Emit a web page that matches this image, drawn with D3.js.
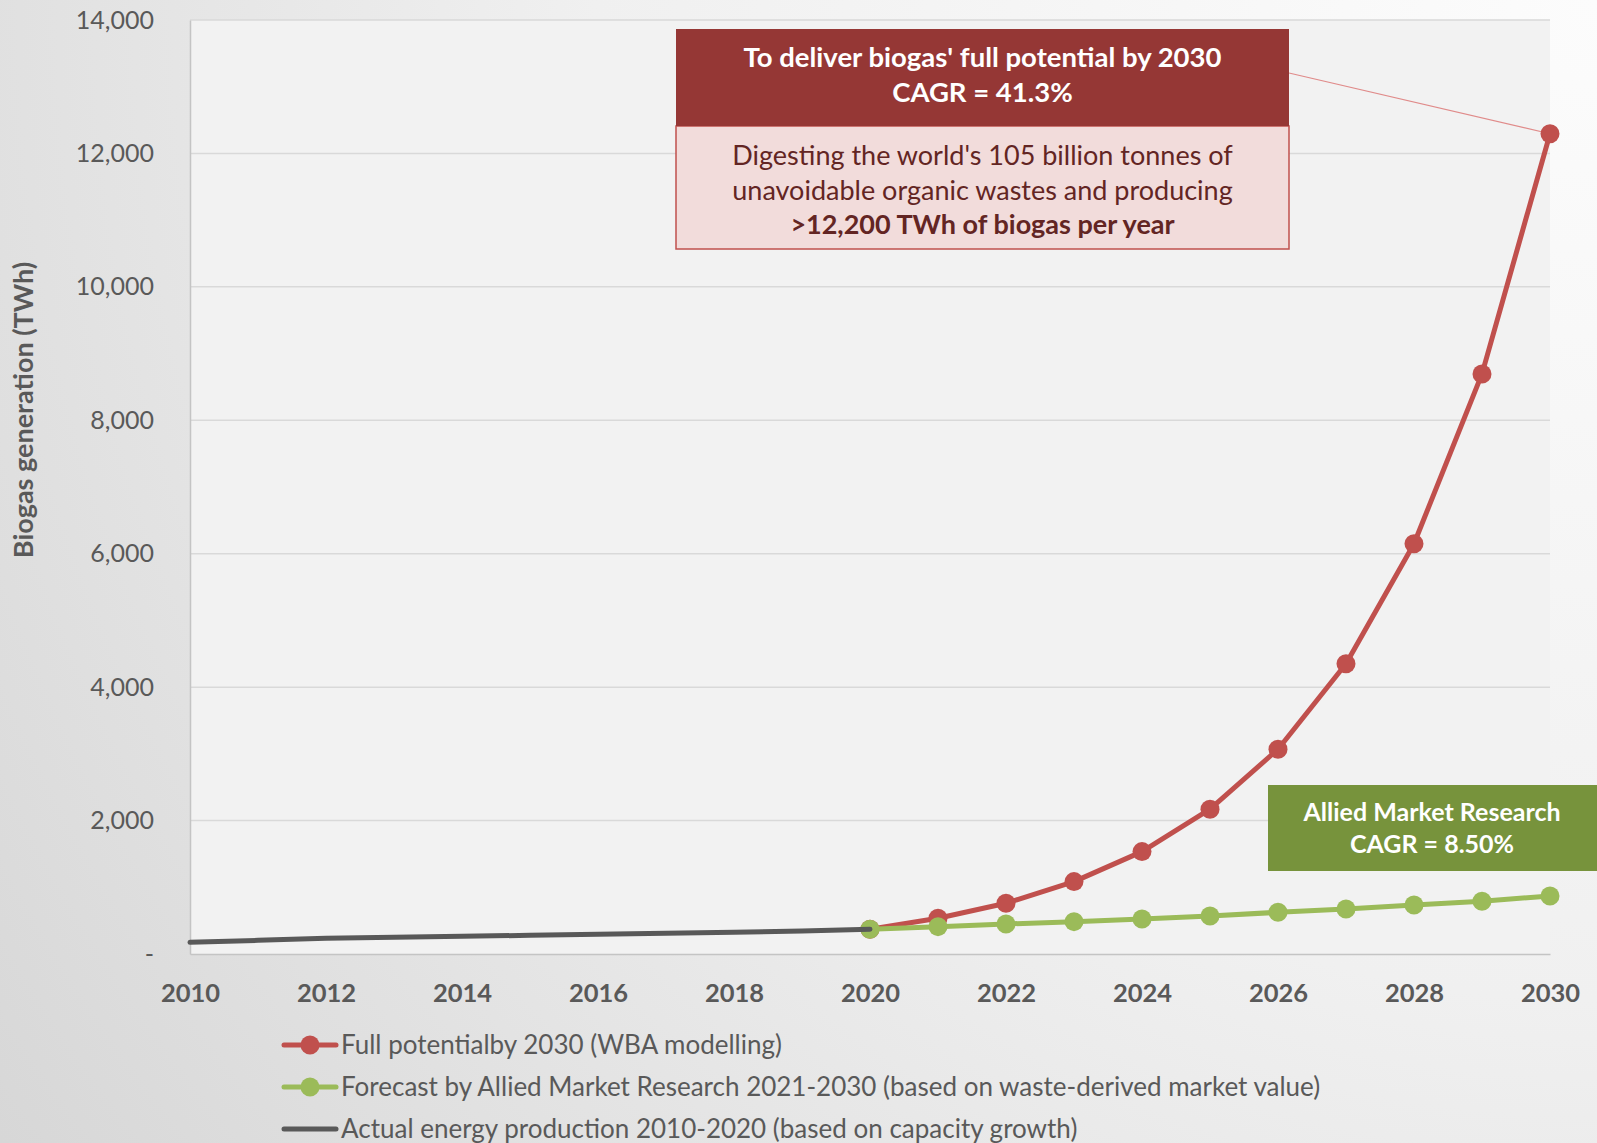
<!DOCTYPE html>
<html>
<head>
<meta charset="utf-8">
<script src="https://cdn.jsdelivr.net/npm/d3@7"></script>
<style>
  html, body { margin: 0; padding: 0; background: #e8e8e8; }
  svg { display: block; font-family: Lato, "Open Sans", sans-serif; }
</style>
</head>
<body>
<script>
const width = 1597, height = 1143;

// data
const actualYears = [2010, 2011, 2012, 2013, 2014, 2015, 2016, 2017, 2018, 2019, 2020];
const actualValues = [175, 205, 235, 250, 265, 280, 295, 310, 325, 345, 370];
const forecastYears = [2020, 2021, 2022, 2023, 2024, 2025, 2026, 2027, 2028, 2029, 2030];
const fullPotential = [370, 535, 760, 1085, 1535, 2170, 3070, 4350, 6150, 8695, 12295];
const alliedForecast = [370, 410, 450, 485, 525, 570, 625, 675, 735, 790, 870];
const xTicks = [2010, 2012, 2014, 2016, 2018, 2020, 2022, 2024, 2026, 2028, 2030];
const yTicks = [0, 2000, 4000, 6000, 8000, 10000, 12000, 14000];
const legendLabels = [
  "Full potentialby 2030 (WBA modelling)",
  "Forecast by Allied Market Research 2021-2030 (based on waste-derived market value)",
  "Actual energy production 2010-2020 (based on capacity growth)"
];
const redHeader = ["To deliver biogas' full potential by 2030", "CAGR = 41.3%"];
const redBody = ["Digesting the world's 105 billion tonnes of", "unavoidable organic wastes and producing"];
const redBodyBold = ">12,200 TWh of biogas per year";
const greenLines = ["Allied Market Research", "CAGR = 8.50%"];

const colors = {red: "#c0504d", green: "#9bbb59", grey: "#595959"};

const svg = d3.select("body").append("svg")
    .attr("width", width)
    .attr("height", height);

const defs = svg.append("defs");
const bg = defs.append("radialGradient")
    .attr("id", "bg")
    .attr("gradientUnits", "userSpaceOnUse")
    .attr("cx", 1597).attr("cy", 0).attr("r", 2000);
bg.append("stop").attr("offset", "0%").attr("stop-color", "#fcfcfc");
bg.append("stop").attr("offset", "50%").attr("stop-color", "#f0f0f0");
bg.append("stop").attr("offset", "100%").attr("stop-color", "#d6d6d6");

svg.append("rect").attr("width", width).attr("height", height).attr("fill", "url(#bg)");

const margin = {left: 190, right: 47, top: 20, bottom: 189};
const x = d3.scaleLinear().domain([2010, 2030]).range([margin.left, width - margin.right]);
const y = d3.scaleLinear().domain([0, 14000]).range([height - margin.bottom, margin.top]);

// plot area
svg.append("rect")
    .attr("x", x(2010)).attr("y", y(14000))
    .attr("width", x(2030) - x(2010)).attr("height", y(0) - y(14000))
    .attr("fill", "#f2f2f2");

// grid
svg.append("g").selectAll("line")
  .data(yTicks.filter(d => d > 0))
  .join("line")
    .attr("x1", x(2010)).attr("x2", x(2030))
    .attr("y1", d => y(d)).attr("y2", d => y(d))
    .attr("stroke", "#d9d9d9").attr("stroke-width", 1.5);

// y axis
const yAxis = svg.append("g")
    .attr("transform", `translate(${x(2010)},0)`)
    .call(d3.axisLeft(y).tickValues(yTicks).tickSize(0).tickPadding(36)
      .tickFormat(d => d === 0 ? "-" : d3.format(",")(d)));
yAxis.select(".domain").attr("stroke", "#c4c4c4").attr("stroke-width", 1.5);
yAxis.selectAll("text").attr("fill", "#595959").attr("font-size", 25)
    .attr("font-family", "Lato, sans-serif");

// x axis
const xAxis = svg.append("g")
    .attr("transform", `translate(0,${y(0)})`)
    .call(d3.axisBottom(x).tickValues(xTicks).tickSize(0).tickPadding(30)
      .tickFormat(d3.format("d")));
xAxis.select(".domain").attr("stroke", "#c4c4c4").attr("stroke-width", 1.5);
xAxis.selectAll("text").attr("fill", "#595959").attr("font-size", 25.5)
    .attr("font-weight", "bold").attr("font-family", "Lato, sans-serif");

// axis title
svg.append("text")
    .attr("transform", "translate(33,410) rotate(-90)")
    .attr("text-anchor", "middle")
    .attr("fill", "#595959")
    .attr("font-size", 27)
    .attr("font-weight", "bold")
    .text("Biogas generation (TWh)");

const line = d3.line().x(d => x(d[0])).y(d => y(d[1]));

function drawSeries(years, values, color, markers) {
  const pts = years.map((yr, i) => [yr, values[i]]);
  const g = svg.append("g");
  g.append("path")
      .datum(pts)
      .attr("d", line)
      .attr("fill", "none")
      .attr("stroke", color)
      .attr("stroke-width", 5)
      .attr("stroke-linejoin", "round")
      .attr("stroke-linecap", "round");
  if (markers) {
    g.selectAll("circle")
      .data(pts)
      .join("circle")
        .attr("cx", d => x(d[0]))
        .attr("cy", d => y(d[1]))
        .attr("r", 9.5)
        .attr("fill", color);
  }
}

// connector from annotation to the 2030 point
svg.append("line")
    .attr("x1", 1289).attr("y1", 73)
    .attr("x2", x(2030)).attr("y2", y(fullPotential[fullPotential.length - 1]))
    .attr("stroke", "#e08b8a").attr("stroke-width", 1.2);

drawSeries(forecastYears, fullPotential, colors.red, true);
drawSeries(forecastYears, alliedForecast, colors.green, true);
drawSeries(actualYears, actualValues, colors.grey, false);

// red annotation box
const bx = 676, bw = 613, cx = bx + bw / 2;
svg.append("rect").attr("x", bx).attr("y", 126).attr("width", bw).attr("height", 123)
    .attr("fill", "#f2dcdb").attr("stroke", "#c0504d").attr("stroke-width", 1.5);
svg.append("rect").attr("x", bx).attr("y", 29).attr("width", bw).attr("height", 97)
    .attr("fill", "#953735");
svg.append("g").selectAll("text")
  .data(redHeader)
  .join("text")
    .attr("x", cx).attr("y", (d, i) => 67 + i * 35)
    .attr("text-anchor", "middle")
    .attr("fill", "#ffffff").attr("font-size", 27.5).attr("font-weight", "bold")
    .text(d => d);
svg.append("g").selectAll("text")
  .data(redBody)
  .join("text")
    .attr("x", cx).attr("y", (d, i) => 165 + i * 35)
    .attr("text-anchor", "middle")
    .attr("fill", "#632523").attr("font-size", 27)
    .text(d => d);
svg.append("text")
    .attr("x", cx).attr("y", 234)
    .attr("text-anchor", "middle")
    .attr("fill", "#632523").attr("font-size", 27).attr("font-weight", "bold")
    .text(redBodyBold);

// green annotation box
svg.append("rect").attr("x", 1268).attr("y", 785).attr("width", 329).attr("height", 86)
    .attr("fill", "#77933c");
svg.append("g").selectAll("text")
  .data(greenLines)
  .join("text")
    .attr("x", 1432).attr("y", (d, i) => 821 + i * 32)
    .attr("text-anchor", "middle")
    .attr("fill", "#ffffff").attr("font-size", 25).attr("font-weight", "bold")
    .text(d => d);

// legend
const legendColors = [colors.red, colors.green, colors.grey];
const legend = svg.append("g").selectAll("g")
  .data(legendLabels)
  .join("g")
    .attr("transform", (d, i) => `translate(284,${1045 + i * 42})`);
legend.append("line")
    .attr("x1", 0).attr("x2", 52)
    .attr("stroke", (d, i) => legendColors[i])
    .attr("stroke-width", 5).attr("stroke-linecap", "round");
legend.filter((d, i) => i < 2).append("circle")
    .attr("cx", 26).attr("r", 9.5)
    .attr("fill", (d, i) => legendColors[i]);
legend.append("text")
    .attr("x", 57).attr("y", 9)
    .attr("fill", "#595959").attr("font-size", 26)
    .text(d => d);
</script>
</body>
</html>
